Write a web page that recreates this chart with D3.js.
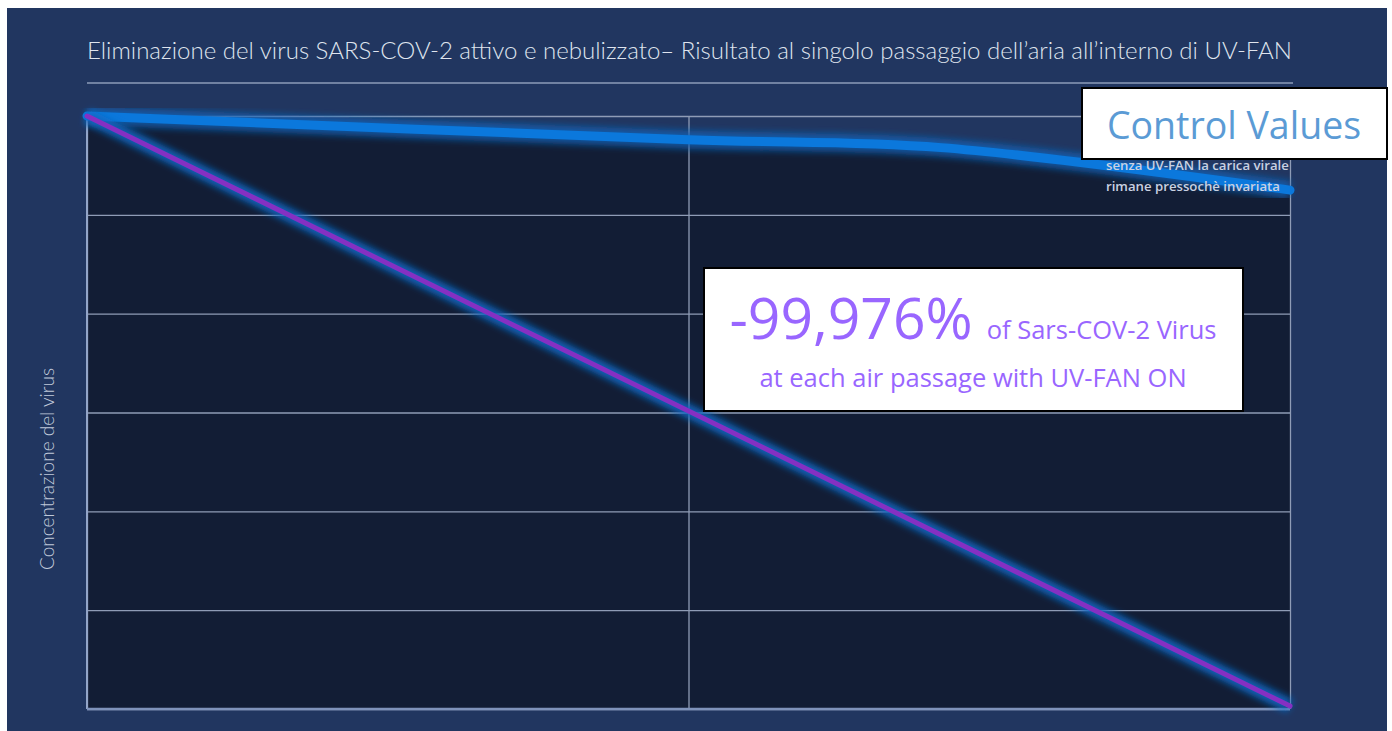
<!DOCTYPE html>
<html>
<head>
<meta charset="utf-8">
<script src="https://cdn.jsdelivr.net/npm/d3@7"></script>
<style>
  body { margin: 0; background: #ffffff; }
  svg { display: block; }
</style>
</head>
<body>
<svg width="1392" height="731"></svg>
<script>
// data (x = air passages, y = relative virus concentration)
var passages = [0, 1, 1.42, 2];
var controlValues = [6, 5.76, 5.68, 5.25];
var uvFanPassages = [0, 2];
var uvFanValues = [6, 0.03];
var yTicks = [0, 1, 2, 3, 4, 5, 6];
var xTicks = [0, 1, 2];

var svg = d3.select("svg"),
  margin = { top: 116, right: 102, bottom: 22, left: 87 },
  width = +svg.attr("width") - margin.left - margin.right,
  height = +svg.attr("height") - margin.top - margin.bottom;

var x = d3.scaleLinear().domain([0, 2]).range([0, width]);
var y = d3.scaleLinear().domain([0, 6]).range([height, 0]);

// glow filter
var defs = svg.append("defs");
var soft = defs.append("filter").attr("id", "soft")
  .attr("x", "-10%").attr("y", "-10%").attr("width", "120%").attr("height", "120%");
soft.append("feGaussianBlur").attr("stdDeviation", 3.5);

// panel
svg.append("rect").attr("x", 7).attr("y", 8).attr("width", 1380).attr("height", 723)
  .attr("fill", "#213660");

svg.append("text")
  .attr("x", 87).attr("y", 59)
  .attr("textLength", 1205).attr("lengthAdjust", "spacingAndGlyphs")
  .style("font-family", "Lato, sans-serif").style("font-weight", 300)
  .style("font-size", "24px").attr("fill", "#dfe4ee")
  .text("Eliminazione del virus SARS-COV-2 attivo e nebulizzato\u2013 Risultato al singolo passaggio dell\u2019aria all\u2019interno di UV-FAN");

svg.append("line").attr("x1", 87).attr("x2", 1293).attr("y1", 83).attr("y2", 83)
  .attr("stroke", "#8c9cb8").attr("stroke-width", 1.5);

svg.append("text")
  .attr("transform", "translate(54,469) rotate(-90)")
  .attr("text-anchor", "middle")
  .style("font-family", "Lato, sans-serif").style("font-weight", 300)
  .style("font-size", "19px").attr("fill", "#c0c9da")
  .text("Concentrazione del virus");

var g = svg.append("g")
  .attr("transform", "translate(" + margin.left + "," + margin.top + ")");

var controlData = passages.map(function (d, i) { return { x: d, y: controlValues[i] }; });
var uvData = uvFanPassages.map(function (d, i) { return { x: d, y: uvFanValues[i] }; });

// dark area below the control curve
var area = d3.area()
  .x(function (d) { return x(d.x); })
  .y0(y(0))
  .y1(function (d) { return y(d.y); })
  .curve(d3.curveCatmullRom);

g.append("path").datum(controlData)
  .attr("d", area)
  .attr("fill", "#121d35");

// grid
g.append("g")
  .attr("class", "grid")
  .call(d3.axisLeft(y).tickValues(yTicks).tickSize(-width).tickFormat(""))
  .call(function (a) { a.select(".domain").remove(); })
  .selectAll("line").attr("stroke", "#8f9cb6").attr("stroke-width", 1.3);

g.append("g")
  .attr("class", "grid")
  .attr("transform", "translate(0," + height + ")")
  .call(d3.axisBottom(x).tickValues(xTicks).tickSize(-height).tickFormat(""))
  .call(function (a) { a.select(".domain").remove(); })
  .selectAll("line").attr("stroke", "#8f9cb6").attr("stroke-width", 1.3);

g.append("line").attr("x1", 0).attr("x2", 0).attr("y1", 0).attr("y2", height)
  .attr("stroke", "#93a5c8").attr("stroke-width", 2);
g.append("line").attr("x1", 0).attr("x2", width).attr("y1", height).attr("y2", height)
  .attr("stroke", "#7f93bb").attr("stroke-width", 2.5);

var line = d3.line()
  .x(function (d) { return x(d.x); })
  .y(function (d) { return y(d.y); })
  .curve(d3.curveCatmullRom);

// control curve
g.append("path").datum(controlData)
  .attr("d", line).attr("fill", "none")
  .attr("stroke", "#1163b8").attr("stroke-width", 18).attr("stroke-opacity", 0.8)
  .attr("filter", "url(#soft)");
g.append("path").datum(controlData)
  .attr("d", line).attr("fill", "none")
  .attr("stroke", "#0b78dc").attr("stroke-width", 9).attr("stroke-linecap", "round");

// UV-FAN line
g.append("path").datum(uvData)
  .attr("d", line).attr("fill", "none")
  .attr("stroke", "#1268c4").attr("stroke-width", 14).attr("stroke-opacity", 0.9)
  .attr("filter", "url(#soft)");
g.append("path").datum(uvData)
  .attr("d", line).attr("fill", "none")
  .attr("stroke", "#8530c2").attr("stroke-width", 5).attr("stroke-linecap", "round");

// note under control values
var note = svg.append("text")
  .style("font-family", "'Open Sans', sans-serif").style("font-weight", 600)
  .style("font-size", "13.2px").attr("fill", "#c9d1e2");
note.append("tspan").attr("x", 1106).attr("y", 170).text("senza UV-FAN la carica virale");
note.append("tspan").attr("x", 1106).attr("y", 191).text("rimane pressoch\u00e8 invariata");

// Control Values box
svg.append("rect").attr("x", 1082).attr("y", 88).attr("width", 305).attr("height", 71)
  .attr("fill", "#ffffff").attr("stroke", "#000000").attr("stroke-width", 2);
svg.append("text")
  .attr("x", 1234).attr("y", 139).attr("text-anchor", "middle")
  .style("font-family", "'Open Sans', sans-serif")
  .style("font-size", "37.5px").attr("fill", "#5b9bd5")
  .text("Control Values");

// reduction box
svg.append("rect").attr("x", 704).attr("y", 268).attr("width", 539).attr("height", 143)
  .attr("fill", "#ffffff").attr("stroke", "#000000").attr("stroke-width", 2);
var big = svg.append("text")
  .attr("x", 973).attr("y", 339).attr("text-anchor", "middle")
  .style("font-family", "'Open Sans', sans-serif").attr("fill", "#9966ff");
big.append("tspan").style("font-size", "57px").text("-99,976%");
big.append("tspan").style("font-size", "25.5px").attr("dx", 14).text("of Sars-COV-2 Virus");
svg.append("text")
  .attr("x", 973).attr("y", 387).attr("text-anchor", "middle")
  .style("font-family", "'Open Sans', sans-serif")
  .style("font-size", "25.5px").attr("fill", "#9966ff")
  .text("at each air passage with UV-FAN ON");
</script>
</body>
</html>
